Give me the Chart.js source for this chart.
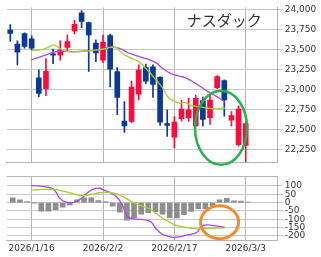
<!DOCTYPE html>
<html>
<head>
<meta charset="utf-8">
<script src="https://cdn.jsdelivr.net/npm/chart.js@4.4.1/dist/chart.umd.min.js"></script>
<style>
  body { margin: 0; background: #fff; }
  #wrap { position: relative; width: 321px; height: 257px; }
  #mainChart { position: absolute; left: 0; top: 0; }
  #subChart { position: absolute; left: 0; top: 170px; }
</style>
</head>
<body>
<div id="wrap">
  <canvas id="mainChart" width="321" height="170"></canvas>
  <canvas id="subChart" width="321" height="87"></canvas>
</div>
<script>
// trading days shown on the chart
const dates = ['2026/1/13', '2026/1/14', '2026/1/15', '2026/1/16', '2026/1/20', '2026/1/21', '2026/1/22', '2026/1/23',
    '2026/1/26', '2026/1/27', '2026/1/28', '2026/1/29', '2026/1/30', '2026/2/2', '2026/2/3', '2026/2/4', '2026/2/5',
    '2026/2/6', '2026/2/9', '2026/2/10', '2026/2/11', '2026/2/12', '2026/2/13', '2026/2/17', '2026/2/18', '2026/2/19',
    '2026/2/20', '2026/2/23', '2026/2/24', '2026/2/25', '2026/2/26', '2026/2/27', '2026/3/2', '2026/3/3'];
const emptySlots = ['', '', '', ''];
const dateTicks = ['2026/1/16', '2026/2/2', '2026/2/17', '2026/3/3'];

// daily candles
const openP = [23744, 23568, 23699, 23634, 23146, 23012, 23446, 23430, 23528, 23732, 23959, 23837, 23580, 23366, 23674, 23223, 22604,
    22600, 22942, 23275, 23284, 23153, 22573, 22402, 22634, 22646, 22543, 22861, 22646, 23024, 23113, 22617, 22308, 22299];
const highP = [23812, 23610, 23711, 23671, 23247, 23385, 23507, 23610, 23683, 23866, 23988, 23845, 23622, 23683, 23690, 23275, 22848,
    23105, 23308, 23317, 23308, 23162, 22747, 22660, 22869, 22893, 22930, 22906, 22930, 23174, 23122, 22723, 22796, 22585];
const lowP = [23601, 23308, 23519, 23488, 22909, 22922, 23324, 23366, 23479, 23695, 23772, 23227, 23349, 23336, 23031, 22686, 22463,
    22585, 22869, 23073, 22902, 22552, 22414, 22268, 22604, 22601, 22540, 22543, 22564, 23012, 22665, 22543, 22292, 22097];
const closeP = [23702, 23467, 23540, 23519, 22951, 23227, 23430, 23495, 23601, 23817, 23854, 23683, 23458, 23593, 23256, 22902, 22543,
    23031, 23244, 23105, 23064, 22592, 22552, 22592, 22756, 22747, 22890, 22625, 22869, 23162, 22869, 22674, 22756, 22573];

// moving averages, first value is 1/12 (just left of the plot)
const maLong = [23370, 23394, 23418, 23442, 23467, 23479, 23479, 23475, 23475, 23479, 23485, 23490, 23500, 23515, 23535, 23525, 23500,
    23460, 23435, 23410, 23390, 23365, 23330, 23270, 23220, 23186, 23168, 23150, 23113, 23069, 23023, 22974, 22934, 22893, 22840];
const maShort = [23488, 23494, 23499, 23528, 23558, 23516, 23482, 23471, 23473, 23479, 23485, 23491, 23499, 23512, 23528, 23522, 23455,
    23412, 23379, 23345, 23272, 23198, 23113, 23028, 22906, 22857, 22829, 22839, 22802, 22790, 22780, 22768, 22759, 22762, 22768];

// oscillator panel, lines also start at 1/12
const macd = [102, 100, 97, 92, 80, 28, 4, 0, 8, 30, 62, 82, 86, 72, 58, 35, -14, -85, -97, -100, -103, -115, -160, -190, -202,
    -208, -205, -197, -190, -180, -140, -134, -138, -143, -148];
const signal = [76, 77, 79, 80, 79, 73, 65, 57, 48, 41, 44, 52, 59, 62, 60, 52, 38, 18, 0, -15, -28, -42, -67, -92, -112, -130,
    -141, -148, -153, -157, -156, -155, -154, -153, -152];
const hist = [29, 16, 6, -2, -51, -51, -43, -27, -14, 16, 28, 28, 12, 6, -22, -57, -106, -92, -70, -60, -55, -70, -90, -92, -72,
    -53, -37, -36, -18, 17, 26, 11, 9, 2];

const priceTicks = [22250, 22500, 22750, 23000, 23250, 23500, 23750, 24000];
const oscTicks = [-200, -150, -100, -50, 0, 50, 100];

const UP = '#ff0a3c';
const DOWN = '#0c3896';
const PURPLE = '#b043f0';
const GREEN = '#a4d02c';
const HGRID = '#c6c6c6';
const VGRID = '#b4b4b4';

Chart.defaults.font.family = 'DejaVu Sans';
Chart.defaults.font.size = 9;
Chart.defaults.color = '#333';

const slots = dates.concat(emptySlots);
const candleColor = openP.map((o, i) => closeP[i] >= o ? UP : DOWN);
const toPoints = arr => arr.map((v, i) => ({ x: i - 1, y: v }));
const vGrid = c => dateTicks.includes(slots[c.index]) ? VGRID : 'rgba(0,0,0,0)';
const fixedWidth = s => { s.width = 43.2; };

// hidden linear axis so the lines can start left of the first candle
const lineAxis = { type: 'linear', display: false, min: -0.5, max: slots.length - 0.5 };

const mainOverlay = {
    id: 'mainOverlay',
    afterDraw(chart) {
        const ctx = chart.ctx;
        const area = chart.chartArea;
        ctx.save();
        ctx.fillStyle = '#333';
        ctx.font = '15px "Noto Sans CJK JP"';
        ctx.textBaseline = 'middle';
        ctx.fillText('ナスダック', area.right - 91, 20);

        // green ring round the last days
        const cx = chart.scales.xl.getPixelForValue(32.3);
        const cy = chart.scales.y.getPixelForValue(22520);
        ctx.strokeStyle = '#27b04a';
        ctx.lineWidth = 2.5;
        ctx.beginPath();
        ctx.ellipse(cx, cy, 26, 37, 0, 0, Math.PI * 2);
        ctx.stroke();
        ctx.restore();
    }
};

const subOverlay = {
    id: 'subOverlay',
    afterDraw(chart) {
        const ctx = chart.ctx;
        const area = chart.chartArea;
        ctx.save();
        ctx.strokeStyle = VGRID;
        ctx.lineWidth = 1;
        ctx.beginPath();
        ctx.moveTo(area.left, area.top + 0.5);
        ctx.lineTo(area.right, area.top + 0.5);
        ctx.stroke();

        const cx = chart.scales.xl.getPixelForValue(32.05);
        const cy = chart.scales.y.getPixelForValue(-118);
        ctx.strokeStyle = '#f28a2e';
        ctx.lineWidth = 3;
        ctx.beginPath();
        ctx.ellipse(cx, cy, 19, 16.5, 0, 0, Math.PI * 2);
        ctx.stroke();
        ctx.restore();
    }
};

new Chart(document.getElementById('mainChart'), {
    type: 'bar',
    data: {
        labels: slots,
        datasets: [
            { type: 'line', xAxisID: 'xl', data: toPoints(maShort), borderColor: GREEN, borderWidth: 1.3, pointRadius: 0, tension: 0.3, order: 0 },
            { type: 'line', xAxisID: 'xl', data: toPoints(maLong), borderColor: PURPLE, borderWidth: 1.3, pointRadius: 0, tension: 0.3, order: 0 },
            { data: lowP.map((l, i) => [l, highP[i]]), backgroundColor: candleColor, barThickness: 1, grouped: false, order: 2 },
            { data: openP.map((o, i) => [o, closeP[i]]), backgroundColor: candleColor, barThickness: 5, minBarLength: 1, grouped: false, order: 1 }
        ]
    },
    options: {
        responsive: false,
        animation: false,
        layout: { padding: { left: 6.7, top: 5, right: 0, bottom: 6 } },
        plugins: { legend: { display: false }, tooltip: { enabled: false } },
        scales: {
            x: {
                offset: true,
                grid: { offset: false, color: vGrid, drawTicks: false },
                border: { color: VGRID },
                ticks: { display: false, autoSkip: false },
                afterFit: s => { s.height = 0; }
            },
            xl: lineAxis,
            y: {
                position: 'right',
                min: 22085,
                max: 24028,
                afterBuildTicks: s => { s.ticks = priceTicks.map(v => ({ value: v })); },
                afterFit: fixedWidth,
                grid: { color: HGRID, tickLength: 5 },
                border: { color: VGRID },
                ticks: { padding: 2, autoSkip: false }
            }
        }
    },
    plugins: [mainOverlay]
});

new Chart(document.getElementById('subChart'), {
    type: 'bar',
    data: {
        labels: slots,
        datasets: [
            { type: 'line', xAxisID: 'xl', data: toPoints(signal), borderColor: GREEN, borderWidth: 1.3, pointRadius: 0, tension: 0.4, order: 0 },
            { type: 'line', xAxisID: 'xl', data: toPoints(macd), borderColor: PURPLE, borderWidth: 1.3, pointRadius: 0, tension: 0.4, order: 0 },
            { data: hist, backgroundColor: '#8e8e8e', barThickness: 5, order: 1 }
        ]
    },
    options: {
        responsive: false,
        animation: false,
        layout: { padding: { left: 6.7, top: 5, right: 0, bottom: 0 } },
        plugins: { legend: { display: false }, tooltip: { enabled: false } },
        scales: {
            x: {
                offset: true,
                grid: { offset: false, color: vGrid, drawTicks: false },
                border: { color: VGRID },
                ticks: {
                    autoSkip: false,
                    maxRotation: 0,
                    minRotation: 0,
                    padding: 3,
                    callback: (v, i) => dateTicks.includes(slots[i]) ? slots[i] : ''
                },
                afterFit: s => { s.height = 16.7; }
            },
            xl: lineAxis,
            y: {
                position: 'right',
                min: -226,
                max: 159,
                afterBuildTicks: s => { s.ticks = oscTicks.map(v => ({ value: v })); },
                afterFit: fixedWidth,
                grid: { color: HGRID, tickLength: 5 },
                border: { color: VGRID },
                ticks: { padding: 2, autoSkip: false, font: { size: 9, lineHeight: 0.9 } }
            }
        }
    },
    plugins: [subOverlay]
});
</script>
</body>
</html>
